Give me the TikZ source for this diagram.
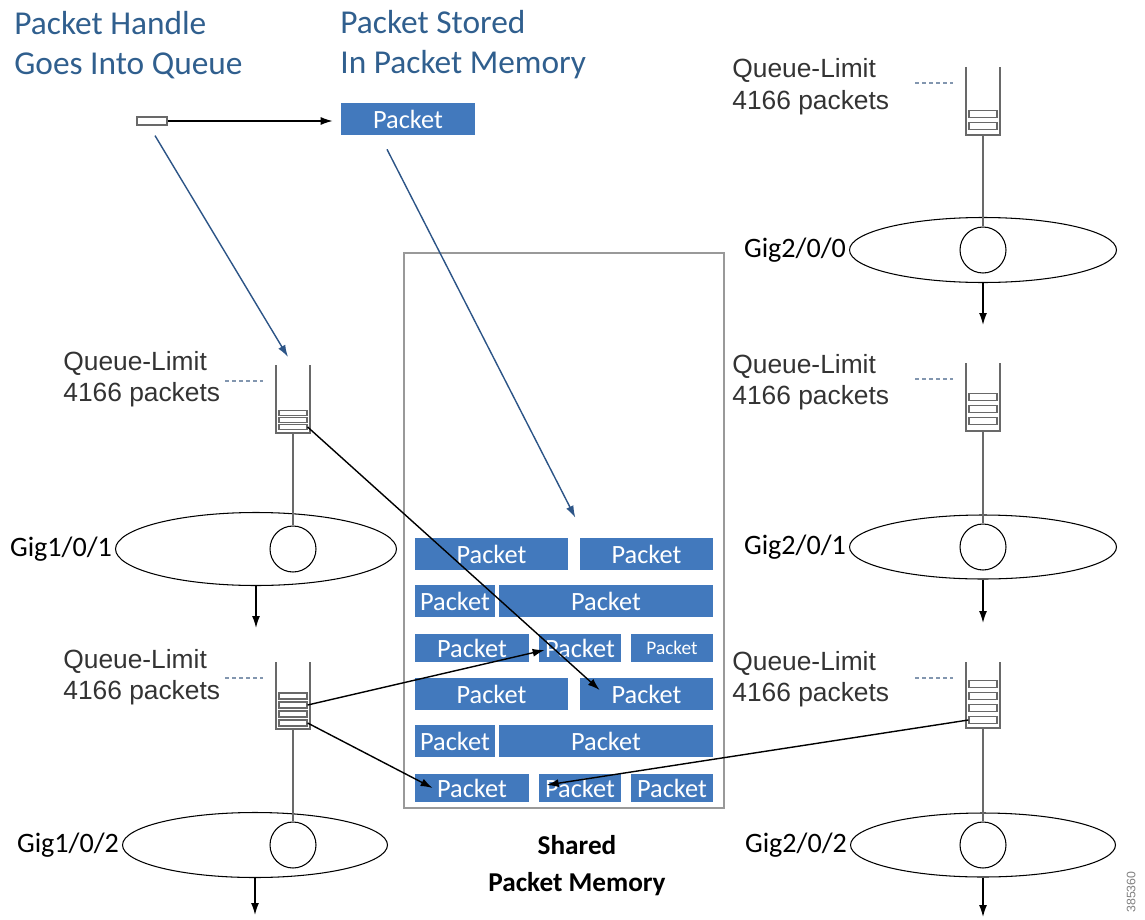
\documentclass[tikz,border=0pt]{standalone}
\usepackage{fontspec}
\setmainfont{Carlito}
\newfontfamily\arialfont{Liberation Sans}
\usepackage{tikz}
\usetikzlibrary{positioning,shapes.geometric,arrows.meta}
\definecolor{pktblue}{RGB}{66,121,189}
\definecolor{titleblue}{RGB}{48,95,142}
\definecolor{arrowblue}{RGB}{45,85,135}
\definecolor{tubegray}{RGB}{105,105,105}
\definecolor{dashgray}{RGB}{130,150,175}

\begin{document}
\begin{tikzpicture}[x=0.02cm,y=-0.02cm,
	pkt/.style={rectangle,fill=pktblue,text=white,inner sep=0pt,minimum height=0.64cm,font=\fontsize{15}{17}\selectfont},
	slot/.style={draw=tubegray,line width=0.7pt,minimum width=0.56cm,inner sep=0pt},
	tube/.style={draw=tubegray,line width=0.8pt},
	port/.style={ellipse,draw,line width=0.6pt,inner sep=0pt},
	sched/.style={circle,draw,line width=0.6pt,minimum size=0.92cm,inner sep=0pt},
	gig/.style={font=\fontsize{16}{18}\selectfont,inner sep=1pt},
	qlimit/.style={font=\arialfont\fontsize{15}{18}\selectfont,align=left,anchor=west,inner sep=0pt,text=black!80},
	tieude/.style={font=\fontsize{19}{22.7}\selectfont,text=titleblue,align=left,anchor=west,inner sep=0pt},
	muiten/.style={-{Latex[length=0.24cm,width=0.16cm]},line width=0.8pt},
	muitenxanh/.style={muiten,draw=arrowblue,fill=arrowblue}]
			\useasboundingbox (0,0) rectangle (1145,919);
			% Tiêu đề
			\node[tieude] (t1) at (14,45) {Packet Handle\\Goes Into Queue};
			\node[tieude] (t2) at (340,45) {Packet Stored\\In Packet Memory};
			\node[draw=tubegray,line width=0.7pt,minimum width=0.6cm,minimum height=0.16cm,inner sep=0pt] (h) at (152,121) {};
			\node[pkt,minimum width=2.68cm] (pk) at (408,119) {Packet};
			% Bộ nhớ dùng chung
			\node[draw=gray!80,line width=0.8pt,minimum width=6.4cm,minimum height=11.1cm,inner sep=0pt] (mem) at (564,530.5) {};
			\node[font=\bfseries\fontsize{15.5}{21}\selectfont,align=center] (memlb) at (577,866) {Shared\\Packet Memory};
			\foreach \r/\y in {1/554,4/694} {
				\node[pkt,minimum width=3.06cm] (p\r-a) at (491.5,\y) {Packet};
				\node[pkt,minimum width=2.66cm] (p\r-b) at (646.5,\y) {Packet};
			}
			\foreach \r/\y in {2/601,5/741} {
				\node[pkt,minimum width=1.6cm] (p\r-a) at (455,\y) {Packet};
				\node[pkt,minimum width=4.28cm] (p\r-b) at (606,\y) {Packet};
			}
			\foreach \r/\y in {3/648,6/788} {
				\node[pkt,minimum width=2.28cm,minimum height=0.56cm] (p\r-a) at (472,\y) {Packet};
				\node[pkt,minimum width=1.64cm,minimum height=0.56cm] (p\r-b) at (580,\y) {Packet};
			}
			\node[pkt,minimum width=1.64cm,minimum height=0.56cm,font=\fontsize{11}{13}\selectfont] (p3-c) at (672,648) {Packet};
			\node[pkt,minimum width=1.64cm,minimum height=0.56cm] (p6-c) at (672,788) {Packet};
			% Hàng đợi
			\foreach \q/\x/\yt/\yb/\lx/\ly in {q1/293/365/433/63/379,q2/293/662/729/63/677,q3/983/67/135/732/87,q4/983/363/431/732/382,q5/983/662/728/732/679} {
				\draw[tube] (\x-17,\yt) |- (\x+17,\yb) -- (\x+17,\yt);
				\coordinate (\q-top) at (\x,\yt);
				\coordinate (\q-bot) at (\x,\yb);
				\coordinate (\q-d1) at (\x-68,\yt+16);
				\coordinate (\q-d2) at (\x-30,\yt+16);
				\node[qlimit] (\q-lim) at (\lx,\ly) {Queue-Limit\\4166 packets};
				\draw[dashgray,dash pattern=on 2pt off 2pt,line width=0.6pt] (\q-d1) -- (\q-d2);
			}
			\foreach \s/\x/\y/\hh in {q1-1/293/413/0.1,q1-2/293/420/0.1,q1-3/293/427/0.1,
				q2-1/293/696/0.12,q2-2/293/705/0.12,q2-3/293/714/0.12,q2-4/293/723/0.12,
				q3-1/983/114/0.14,q3-2/983/126/0.14,
				q4-1/983/397/0.14,q4-2/983/409/0.14,q4-3/983/421/0.14,
				q5-1/983/684/0.14,q5-2/983/696/0.14,q5-3/983/708/0.14,q5-4/983/720/0.14}
			\node[slot,minimum height=\hh cm] (\s) at (\x,\y) {};
			% Cổng ra
			\foreach \e/\x/\y/\w/\h/\cx/\lb/\oy in {e1/256/549/5.62/1.46/293/{Gig1/0/1}/628,
				e2/255/845/5.3/1.3/293/{Gig1/0/2}/915,e3/983/250/5.34/1.3/983/{Gig2/0/0}/325,
				e4/983/547/5.34/1.28/983/{Gig2/0/1}/623,e5/983/845/5.3/1.28/983/{Gig2/0/2}/917} {
				\node[port,minimum width=\w cm,minimum height=\h cm] (\e) at (\x,\y) {};
				\node[sched] (\e-c) at (\cx,\y) {};
				\node[gig,left=0.02cm of \e] (\e-lb) {\lb};
				\coordinate (\e-out) at (\x,\oy);
				\draw[muiten] (\e.south) -- (\e-out);
			}
			\foreach \q/\e in {q1/e1,q2/e2,q3/e3,q4/e4,q5/e5}
			\draw[tube] (\q-bot) -- (\e-c.north);
			% Mũi tên
			\draw[muiten,shorten >=0.16cm] (h.east) -- (h.east -| pk.west);
			\draw[muitenxanh] ([xshift=0.06cm,yshift=-0.2cm]h.south) -- ([xshift=-0.1cm,yshift=0.16cm]q1-top);
			\draw[muitenxanh] ([xshift=-0.42cm,yshift=-0.28cm]pk.south) -- ([xshift=0.14cm,yshift=0.4cm]p1-a.north east);
			\draw[muiten] (q1-3.east) -- ([xshift=0.4cm,yshift=0.08cm]p4-b.west);
			\draw[muiten] (q2-2.east) -- ([xshift=0.12cm,yshift=-0.04cm]p3-b.west);
			\draw[muiten] (q2-4.east) -- ([xshift=0.36cm]p6-a.west);
			\draw[muiten] (q5-4.west) -- ([xshift=0.16cm,yshift=0.06cm]p6-b.west);
			\node[rotate=90,font=\arialfont\fontsize{7}{8}\selectfont,text=gray] (ma) at (1131,892) {385360};
		\end{tikzpicture}
\end{document}
